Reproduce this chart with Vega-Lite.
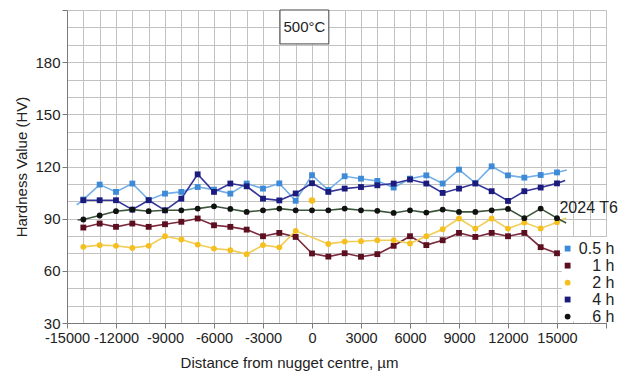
{
  "$schema": "https://vega.github.io/schema/vega-lite/v6.json",
  "width": 539,
  "height": 313,
  "autosize": {"type": "none"},
  "padding": {"left": 67, "top": 10, "right": 15, "bottom": 54},
  "background": "white",
  "config": {
    "font": "Liberation Sans",
    "view": {"stroke": null},
    "axis": {
      "gridColor": "#c2c2c2",
      "gridWidth": 1,
      "gridOpacity": 1,
      "domainColor": "#7a7a7a",
      "tickColor": "#7a7a7a",
      "tickSize": 5,
      "labelFontSize": 15,
      "labelColor": "#222222",
      "titleFontSize": 15,
      "titleFontWeight": "normal",
      "titleColor": "#222222",
      "labelOverlap": false,
      "labelFlush": false
    }
  },
  "datasets": {
    "note": [{"label": "500°C", "legendTitle": "2024 T6"}],
    "legend": [{"s": "0.5 h"}, {"s": "1 h"}, {"s": "2 h"}, {"s": "4 h"}, {"s": "6 h"}],
    "hv": [
      {"s": "0.5 h", "d": -14400, "hv": 98},
      {"s": "0.5 h", "d": -14000, "hv": 101},
      {"s": "0.5 h", "d": -13000, "hv": 109.6},
      {"s": "0.5 h", "d": -12000, "hv": 105.4},
      {"s": "0.5 h", "d": -11000, "hv": 110.2},
      {"s": "0.5 h", "d": -10000, "hv": 100.8},
      {"s": "0.5 h", "d": -9000, "hv": 104.4},
      {"s": "0.5 h", "d": -8000, "hv": 105.4},
      {"s": "0.5 h", "d": -7000, "hv": 108.2},
      {"s": "0.5 h", "d": -6000, "hv": 106.7},
      {"s": "0.5 h", "d": -5000, "hv": 104.4},
      {"s": "0.5 h", "d": -4000, "hv": 110.2},
      {"s": "0.5 h", "d": -3000, "hv": 107.3},
      {"s": "0.5 h", "d": -2000, "hv": 110.3},
      {"s": "0.5 h", "d": -1000, "hv": 100.3},
      {"s": "0.5 h", "d": 0, "hv": 115},
      {"s": "0.5 h", "d": 1000, "hv": 106.5},
      {"s": "0.5 h", "d": 2000, "hv": 114.4},
      {"s": "0.5 h", "d": 3000, "hv": 113},
      {"s": "0.5 h", "d": 4000, "hv": 111.7},
      {"s": "0.5 h", "d": 5000, "hv": 107.9},
      {"s": "0.5 h", "d": 6000, "hv": 113},
      {"s": "0.5 h", "d": 7000, "hv": 114.9},
      {"s": "0.5 h", "d": 8000, "hv": 110.2},
      {"s": "0.5 h", "d": 9000, "hv": 118.2},
      {"s": "0.5 h", "d": 10000, "hv": 110.5},
      {"s": "0.5 h", "d": 11000, "hv": 120.1},
      {"s": "0.5 h", "d": 12000, "hv": 114.9},
      {"s": "0.5 h", "d": 13000, "hv": 113.6},
      {"s": "0.5 h", "d": 14000, "hv": 115.1},
      {"s": "0.5 h", "d": 15000, "hv": 116.6},
      {"s": "0.5 h", "d": 15600, "hv": 118},

      {"s": "1 h", "d": -14000, "hv": 84.9},
      {"s": "1 h", "d": -13000, "hv": 87.2},
      {"s": "1 h", "d": -12000, "hv": 85.3},
      {"s": "1 h", "d": -11000, "hv": 87.2},
      {"s": "1 h", "d": -10000, "hv": 85.3},
      {"s": "1 h", "d": -9000, "hv": 86.8},
      {"s": "1 h", "d": -8000, "hv": 88.2},
      {"s": "1 h", "d": -7000, "hv": 90.1},
      {"s": "1 h", "d": -6000, "hv": 86.2},
      {"s": "1 h", "d": -5000, "hv": 85.3},
      {"s": "1 h", "d": -4000, "hv": 83.7},
      {"s": "1 h", "d": -3000, "hv": 79.9},
      {"s": "1 h", "d": -2000, "hv": 81.8},
      {"s": "1 h", "d": -1000, "hv": 79.5},
      {"s": "1 h", "d": 0, "hv": 70},
      {"s": "1 h", "d": 1000, "hv": 68.2},
      {"s": "1 h", "d": 2000, "hv": 70.1},
      {"s": "1 h", "d": 3000, "hv": 68.1},
      {"s": "1 h", "d": 4000, "hv": 69.6},
      {"s": "1 h", "d": 5000, "hv": 74.4},
      {"s": "1 h", "d": 6000, "hv": 79.9},
      {"s": "1 h", "d": 7000, "hv": 74.8},
      {"s": "1 h", "d": 8000, "hv": 77.6},
      {"s": "1 h", "d": 9000, "hv": 81.8},
      {"s": "1 h", "d": 10000, "hv": 79.5},
      {"s": "1 h", "d": 11000, "hv": 81.8},
      {"s": "1 h", "d": 12000, "hv": 79.9},
      {"s": "1 h", "d": 13000, "hv": 81.8},
      {"s": "1 h", "d": 14000, "hv": 73.6},
      {"s": "1 h", "d": 15000, "hv": 70.1},

      {"s": "2 h", "d": -14000, "hv": 73.8},
      {"s": "2 h", "d": -13000, "hv": 74.8},
      {"s": "2 h", "d": -12000, "hv": 74.4},
      {"s": "2 h", "d": -11000, "hv": 73.2},
      {"s": "2 h", "d": -10000, "hv": 74.4},
      {"s": "2 h", "d": -9000, "hv": 79.9},
      {"s": "2 h", "d": -8000, "hv": 78},
      {"s": "2 h", "d": -7000, "hv": 75.1},
      {"s": "2 h", "d": -6000, "hv": 72.8},
      {"s": "2 h", "d": -5000, "hv": 71.9},
      {"s": "2 h", "d": -4000, "hv": 69.6},
      {"s": "2 h", "d": -3000, "hv": 74.8},
      {"s": "2 h", "d": -2000, "hv": 73.5},
      {"s": "2 h", "d": -1000, "hv": 83},
      {"s": "2 h", "d": 1000, "hv": 75.5},
      {"s": "2 h", "d": 2000, "hv": 76.8},
      {"s": "2 h", "d": 3000, "hv": 77},
      {"s": "2 h", "d": 4000, "hv": 77.6},
      {"s": "2 h", "d": 5000, "hv": 77.6},
      {"s": "2 h", "d": 6000, "hv": 75.7},
      {"s": "2 h", "d": 7000, "hv": 79.9},
      {"s": "2 h", "d": 8000, "hv": 83.9},
      {"s": "2 h", "d": 9000, "hv": 90.1},
      {"s": "2 h", "d": 10000, "hv": 84.3},
      {"s": "2 h", "d": 11000, "hv": 90.1},
      {"s": "2 h", "d": 12000, "hv": 84.3},
      {"s": "2 h", "d": 13000, "hv": 87.8},
      {"s": "2 h", "d": 14000, "hv": 84.4},
      {"s": "2 h", "d": 15000, "hv": 88},
      {"s": "2 h", "d": 15560, "hv": 90.4},

      {"s": "4 h", "d": -14000, "hv": 100.6},
      {"s": "4 h", "d": -13000, "hv": 100.6},
      {"s": "4 h", "d": -12000, "hv": 100.6},
      {"s": "4 h", "d": -11000, "hv": 95.2},
      {"s": "4 h", "d": -10000, "hv": 100.6},
      {"s": "4 h", "d": -9000, "hv": 94.8},
      {"s": "4 h", "d": -8000, "hv": 101.5},
      {"s": "4 h", "d": -7000, "hv": 115.5},
      {"s": "4 h", "d": -6000, "hv": 105.4},
      {"s": "4 h", "d": -5000, "hv": 110.2},
      {"s": "4 h", "d": -4000, "hv": 108.6},
      {"s": "4 h", "d": -3000, "hv": 101.5},
      {"s": "4 h", "d": -2000, "hv": 100.5},
      {"s": "4 h", "d": -1000, "hv": 104.5},
      {"s": "4 h", "d": 0, "hv": 110.4},
      {"s": "4 h", "d": 1000, "hv": 105.4},
      {"s": "4 h", "d": 2000, "hv": 107.3},
      {"s": "4 h", "d": 3000, "hv": 108.2},
      {"s": "4 h", "d": 4000, "hv": 109.2},
      {"s": "4 h", "d": 5000, "hv": 110.2},
      {"s": "4 h", "d": 6000, "hv": 112.5},
      {"s": "4 h", "d": 7000, "hv": 110.2},
      {"s": "4 h", "d": 8000, "hv": 104.8},
      {"s": "4 h", "d": 9000, "hv": 107.3},
      {"s": "4 h", "d": 10000, "hv": 110.2},
      {"s": "4 h", "d": 11000, "hv": 105.8},
      {"s": "4 h", "d": 12000, "hv": 100.2},
      {"s": "4 h", "d": 13000, "hv": 105.8},
      {"s": "4 h", "d": 14000, "hv": 107.9},
      {"s": "4 h", "d": 15000, "hv": 110.3},
      {"s": "4 h", "d": 15500, "hv": 112},

      {"s": "6 h", "d": -14350, "hv": 89.2},
      {"s": "6 h", "d": -14000, "hv": 89.5},
      {"s": "6 h", "d": -13000, "hv": 91.8},
      {"s": "6 h", "d": -12000, "hv": 94.3},
      {"s": "6 h", "d": -11000, "hv": 95.2},
      {"s": "6 h", "d": -10000, "hv": 94.3},
      {"s": "6 h", "d": -9000, "hv": 94.8},
      {"s": "6 h", "d": -8000, "hv": 94.8},
      {"s": "6 h", "d": -7000, "hv": 95.8},
      {"s": "6 h", "d": -6000, "hv": 97.1},
      {"s": "6 h", "d": -5000, "hv": 95.6},
      {"s": "6 h", "d": -4000, "hv": 93.9},
      {"s": "6 h", "d": -3000, "hv": 94.8},
      {"s": "6 h", "d": -2000, "hv": 95.8},
      {"s": "6 h", "d": -1000, "hv": 94.8},
      {"s": "6 h", "d": 0, "hv": 94.8},
      {"s": "6 h", "d": 1000, "hv": 94.8},
      {"s": "6 h", "d": 2000, "hv": 95.8},
      {"s": "6 h", "d": 3000, "hv": 94.8},
      {"s": "6 h", "d": 4000, "hv": 94.5},
      {"s": "6 h", "d": 5000, "hv": 93.3},
      {"s": "6 h", "d": 6000, "hv": 94.8},
      {"s": "6 h", "d": 7000, "hv": 93.5},
      {"s": "6 h", "d": 8000, "hv": 95.2},
      {"s": "6 h", "d": 9000, "hv": 93.9},
      {"s": "6 h", "d": 10000, "hv": 93.9},
      {"s": "6 h", "d": 11000, "hv": 94.8},
      {"s": "6 h", "d": 12000, "hv": 95.6},
      {"s": "6 h", "d": 13000, "hv": 90.3},
      {"s": "6 h", "d": 14000, "hv": 95.8},
      {"s": "6 h", "d": 15000, "hv": 90.3},
      {"s": "6 h", "d": 15560, "hv": 87.5}
    ],
    "extra": [
      {"s": "2 h", "d": 0, "hv": 100.5}
    ]
  },
  "layer": [
    {
      "data": {"name": "hv"},
      "mark": {"type": "line", "strokeWidth": 1.6},
      "encoding": {
        "x": {
          "field": "d",
          "type": "quantitative",
          "scale": {"domain": [-15000, 18000], "nice": false, "zero": false},
          "axis": {
            "title": "Distance from nugget centre, µm",
            "values": [-15000,-14000,-13000,-12000,-11000,-10000,-9000,-8000,-7000,-6000,-5000,-4000,-3000,-2000,-1000,0,1000,2000,3000,4000,5000,6000,7000,8000,9000,10000,11000,12000,13000,14000,15000,16000,17000,18000],
            "tickCount": 100,
            "format": "d",
            "labelExpr": "datum.value % 3000 === 0 && datum.value < 18000 ? (datum.value < 0 ? '-' + format(-datum.value, 'd') : format(datum.value, 'd')) : ''",
            "tickOpacity": {"condition": {"test": "datum.value % 3000 === 0", "value": 1}, "value": 0},
            "labelOverlap": false,
            "labelFontSize": 14.5,
            "labelPadding": 3,
            "titlePadding": 11,
            "titleX": 222
          }
        },
        "y": {
          "field": "hv",
          "type": "quantitative",
          "scale": {"domain": [30, 210], "nice": false, "zero": false},
          "axis": {
            "title": "Hardness Value (HV)",
            "values": [30,40,50,60,70,80,90,100,110,120,130,140,150,160,170,180,190,200,210],
            "tickCount": 100,
            "labelExpr": "datum.value % 30 === 0 && datum.value < 210 ? datum.label : ''",
            "tickOpacity": {"condition": {"test": "datum.value % 30 === 0", "value": 1}, "value": 0},
            "labelOverlap": false,
            "labelPadding": 2,
            "titlePadding": 5
          }
        },
        "stroke": {
          "field": "s",
          "type": "nominal",
          "scale": {"domain": ["0.5 h", "1 h", "2 h", "4 h", "6 h"], "range": ["#74aee6", "#7a2a3c", "#f2cd55", "#34349a", "#3b553b"]},
          "legend": null
        }
      }
    },
    {
      "data": {"name": "note"},
      "mark": {"type": "rect", "fill": "white", "stroke": "#444444", "strokeWidth": 1},
      "encoding": {
        "x": {"datum": -1960, "type": "quantitative"},
        "x2": {"datum": 1030},
        "y": {"datum": 190.5, "type": "quantitative"},
        "y2": {"datum": 210}
      }
    },
    {
      "data": {"name": "note"},
      "mark": {"type": "text", "fontSize": 15, "color": "#222222", "align": "center", "baseline": "middle"},
      "encoding": {
        "x": {"datum": -465, "type": "quantitative"},
        "y": {"datum": 200.3, "type": "quantitative"},
        "text": {"field": "label"}
      }
    },
    {
      "data": {"name": "hv"},
      "transform": [{"filter": "datum.d >= -14000 && datum.d <= 15000"}],
      "mark": {"type": "point", "filled": true, "opacity": 1, "strokeWidth": 0},
      "encoding": {
        "x": {"field": "d", "type": "quantitative"},
        "y": {"field": "hv", "type": "quantitative"},
        "fill": {
          "field": "s",
          "type": "nominal",
          "scale": {"domain": ["0.5 h", "1 h", "2 h", "4 h", "6 h"], "range": ["#3d8ad6", "#5c0f1f", "#f4bf1f", "#1b1b7d", "#111111"]},
          "legend": null
        },
        "shape": {
          "field": "s",
          "type": "nominal",
          "scale": {"domain": ["0.5 h", "1 h", "2 h", "4 h", "6 h"], "range": ["square", "square", "circle", "square", "circle"]},
          "legend": null
        },
        "size": {
          "field": "s",
          "type": "nominal",
          "scale": {"domain": ["0.5 h", "1 h", "2 h", "4 h", "6 h"], "range": [34, 34, 42, 34, 14]},
          "legend": null
        }
      }
    },
    {
      "data": {"name": "extra"},
      "mark": {"type": "point", "filled": true, "opacity": 1, "strokeWidth": 0, "fill": "#f4bf1f", "shape": "circle", "size": 42},
      "encoding": {
        "x": {"field": "d", "type": "quantitative"},
        "y": {"field": "hv", "type": "quantitative"}
      }
    },
    {
      "data": {"name": "note"},
      "mark": {"type": "rect", "fill": "white", "strokeWidth": 0},
      "encoding": {
        "x": {"datum": 15300, "type": "quantitative"},
        "x2": {"datum": 18950},
        "y": {"datum": 30.8, "type": "quantitative"},
        "y2": {"datum": 79.5}
      }
    },
    {
      "data": {"name": "note"},
      "mark": {"type": "text", "fontSize": 16, "color": "#222222", "align": "left", "baseline": "middle"},
      "encoding": {
        "x": {"datum": 15150, "type": "quantitative"},
        "y": {"datum": 96.3, "type": "quantitative"},
        "text": {"field": "legendTitle"}
      }
    },
    {
      "data": {"name": "legend"},
      "transform": [{"filter": "datum.s === '0.5 h'"}],
      "layer": [
        {
          "mark": {"type": "point", "filled": true, "opacity": 1, "strokeWidth": 0},
          "encoding": {
            "x": {"datum": 15650, "type": "quantitative"},
            "y": {"datum": 72.8, "type": "quantitative"},
            "fill": {"field": "s", "type": "nominal", "legend": null},
            "shape": {"field": "s", "type": "nominal", "legend": null},
            "size": {"field": "s", "type": "nominal", "legend": null}
          }
        },
        {
          "mark": {"type": "text", "fontSize": 16, "color": "#222222", "align": "right", "baseline": "middle"},
          "encoding": {
            "x": {"datum": 18515, "type": "quantitative"},
            "y": {"datum": 72.8, "type": "quantitative"},
            "text": {"field": "s"}
          }
        }
      ]
    },
    {
      "data": {"name": "legend"},
      "transform": [{"filter": "datum.s === '1 h'"}],
      "layer": [
        {
          "mark": {"type": "point", "filled": true, "opacity": 1, "strokeWidth": 0},
          "encoding": {
            "x": {"datum": 15650, "type": "quantitative"},
            "y": {"datum": 63, "type": "quantitative"},
            "fill": {"field": "s", "type": "nominal", "legend": null},
            "shape": {"field": "s", "type": "nominal", "legend": null},
            "size": {"field": "s", "type": "nominal", "legend": null}
          }
        },
        {
          "mark": {"type": "text", "fontSize": 16, "color": "#222222", "align": "right", "baseline": "middle"},
          "encoding": {
            "x": {"datum": 18515, "type": "quantitative"},
            "y": {"datum": 63, "type": "quantitative"},
            "text": {"field": "s"}
          }
        }
      ]
    },
    {
      "data": {"name": "legend"},
      "transform": [{"filter": "datum.s === '2 h'"}],
      "layer": [
        {
          "mark": {"type": "point", "filled": true, "opacity": 1, "strokeWidth": 0},
          "encoding": {
            "x": {"datum": 15650, "type": "quantitative"},
            "y": {"datum": 53.2, "type": "quantitative"},
            "fill": {"field": "s", "type": "nominal", "legend": null},
            "shape": {"field": "s", "type": "nominal", "legend": null},
            "size": {"field": "s", "type": "nominal", "legend": null}
          }
        },
        {
          "mark": {"type": "text", "fontSize": 16, "color": "#222222", "align": "right", "baseline": "middle"},
          "encoding": {
            "x": {"datum": 18515, "type": "quantitative"},
            "y": {"datum": 53.2, "type": "quantitative"},
            "text": {"field": "s"}
          }
        }
      ]
    },
    {
      "data": {"name": "legend"},
      "transform": [{"filter": "datum.s === '4 h'"}],
      "layer": [
        {
          "mark": {"type": "point", "filled": true, "opacity": 1, "strokeWidth": 0},
          "encoding": {
            "x": {"datum": 15650, "type": "quantitative"},
            "y": {"datum": 43.5, "type": "quantitative"},
            "fill": {"field": "s", "type": "nominal", "legend": null},
            "shape": {"field": "s", "type": "nominal", "legend": null},
            "size": {"field": "s", "type": "nominal", "legend": null}
          }
        },
        {
          "mark": {"type": "text", "fontSize": 16, "color": "#222222", "align": "right", "baseline": "middle"},
          "encoding": {
            "x": {"datum": 18515, "type": "quantitative"},
            "y": {"datum": 43.5, "type": "quantitative"},
            "text": {"field": "s"}
          }
        }
      ]
    },
    {
      "data": {"name": "legend"},
      "transform": [{"filter": "datum.s === '6 h'"}],
      "layer": [
        {
          "mark": {"type": "point", "filled": true, "opacity": 1, "strokeWidth": 0},
          "encoding": {
            "x": {"datum": 15650, "type": "quantitative"},
            "y": {"datum": 33.7, "type": "quantitative"},
            "fill": {"field": "s", "type": "nominal", "legend": null},
            "shape": {"field": "s", "type": "nominal", "legend": null},
            "size": {"field": "s", "type": "nominal", "legend": null}
          }
        },
        {
          "mark": {"type": "text", "fontSize": 16, "color": "#222222", "align": "right", "baseline": "middle"},
          "encoding": {
            "x": {"datum": 18515, "type": "quantitative"},
            "y": {"datum": 33.7, "type": "quantitative"},
            "text": {"field": "s"}
          }
        }
      ]
    }
  ]
}
